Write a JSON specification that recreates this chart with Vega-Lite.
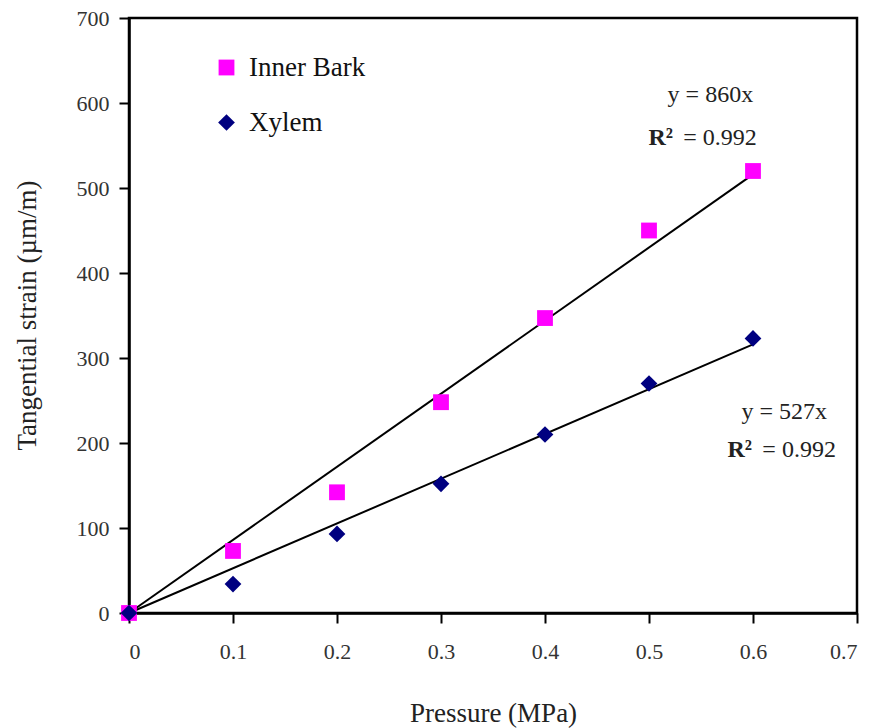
{
  "$schema": "https://vega.github.io/schema/vega-lite/v6.json",
  "autosize": "none",
  "width": 728,
  "height": 595,
  "padding": {"left": 129, "top": 18, "right": 20, "bottom": 115},
  "background": "white",
  "config": {
    "view": {"stroke": "black", "strokeWidth": 2.5},
    "axis": {"grid": false, "domainColor": "black", "tickColor": "black", "domainWidth": 2.5, "tickWidth": 2, "tickSize": 10,
      "labelFontSize": 22, "labelColor": "#333", "titleFont": "Times New Roman", "titleFontSize": 27, "titleFontWeight": "normal", "titleColor": "#222"}
  },
  "datasets": {
    "pts": [
      {"pressure": 0, "strain": 0, "series": "Inner Bark"},
      {"pressure": 0.1, "strain": 73, "series": "Inner Bark"},
      {"pressure": 0.2, "strain": 142, "series": "Inner Bark"},
      {"pressure": 0.3, "strain": 248, "series": "Inner Bark"},
      {"pressure": 0.4, "strain": 347, "series": "Inner Bark"},
      {"pressure": 0.5, "strain": 450, "series": "Inner Bark"},
      {"pressure": 0.6, "strain": 520, "series": "Inner Bark"},
      {"pressure": 0, "strain": 0, "series": "Xylem"},
      {"pressure": 0.1, "strain": 34, "series": "Xylem"},
      {"pressure": 0.2, "strain": 93, "series": "Xylem"},
      {"pressure": 0.3, "strain": 152, "series": "Xylem"},
      {"pressure": 0.4, "strain": 210, "series": "Xylem"},
      {"pressure": 0.5, "strain": 270, "series": "Xylem"},
      {"pressure": 0.6, "strain": 323, "series": "Xylem"}
    ],
    "fits": [
      {"pressure": 0, "strain": 0, "fit": "Inner Bark"},
      {"pressure": 0.6, "strain": 516, "fit": "Inner Bark"},
      {"pressure": 0, "strain": 0, "fit": "Xylem"},
      {"pressure": 0.6, "strain": 316, "fit": "Xylem"}
    ],
    "notes": [
      {"pressure": 0.559, "strain": 609, "label": "y = 860x"},
      {"pressure": 0.630, "strain": 236, "label": "y = 527x"}
    ],
    "r2bold": [
      {"pressure": 0.523, "strain": 559, "label": "R²"},
      {"pressure": 0.599, "strain": 192, "label": "R²"}
    ],
    "r2val": [
      {"pressure": 0.533, "strain": 559, "label": "= 0.992"},
      {"pressure": 0.609, "strain": 192, "label": "= 0.992"}
    ]
  },
  "layer": [
    {
      "data": {"name": "fits"},
      "mark": {"type": "line", "color": "black", "strokeWidth": 2},
      "encoding": {
        "x": {"field": "pressure", "type": "quantitative", "scale": {"domain": [0, 0.7], "nice": false},
          "axis": {"values": [0, 0.1, 0.2, 0.3, 0.4, 0.5, 0.6, 0.7], "format": "~g", "labelPadding": 18, "labelFont": "Times New Roman", "title": "Pressure (MPa)", "titleY": 100, "titleBaseline": "middle"}},
        "y": {"field": "strain", "type": "quantitative", "scale": {"domain": [0, 700], "nice": false},
          "axis": {"values": [0, 100, 200, 300, 400, 500, 600, 700], "format": "d", "labelPadding": 10, "labelFont": "Times New Roman", "title": "Tangential strain (µm/m)", "titleX": -102, "titleY": 297, "titleBaseline": "middle"}},
        "detail": {"field": "fit"}
      }
    },
    {
      "data": {"name": "pts"},
      "mark": {"type": "point", "filled": true, "opacity": 1},
      "encoding": {
        "x": {"field": "pressure", "type": "quantitative"},
        "y": {"field": "strain", "type": "quantitative"},
        "color": {"field": "series", "type": "nominal", "scale": {"domain": ["Inner Bark", "Xylem"], "range": ["#FF00FF", "#000080"]},
          "legend": {"title": null, "orient": "none", "legendX": 84, "legendY": 36, "labelFont": "Times New Roman", "labelFontSize": 27, "labelColor": "#111", "rowPadding": 27, "labelOffset": 9, "symbolSize": 200}},
        "shape": {"field": "series", "type": "nominal", "scale": {"domain": ["Inner Bark", "Xylem"], "range": ["square", "diamond"]}, "legend": null},
        "size": {"field": "series", "type": "nominal", "scale": {"domain": ["Inner Bark", "Xylem"], "range": [250, 280]}, "legend": null}
      }
    },
    {
      "data": {"name": "notes"},
      "mark": {"type": "text", "fontSize": 24, "color": "#222", "align": "center", "baseline": "middle", "font": "Times New Roman"},
      "encoding": {
        "x": {"field": "pressure", "type": "quantitative"},
        "y": {"field": "strain", "type": "quantitative"},
        "text": {"field": "label"}
      }
    },
    {
      "data": {"name": "r2bold"},
      "mark": {"type": "text", "fontSize": 24, "fontWeight": "bold", "color": "#222", "align": "right", "baseline": "middle", "font": "Times New Roman"},
      "encoding": {
        "x": {"field": "pressure", "type": "quantitative"},
        "y": {"field": "strain", "type": "quantitative"},
        "text": {"field": "label"}
      }
    },
    {
      "data": {"name": "r2val"},
      "mark": {"type": "text", "fontSize": 24, "color": "#222", "align": "left", "baseline": "middle", "font": "Times New Roman"},
      "encoding": {
        "x": {"field": "pressure", "type": "quantitative"},
        "y": {"field": "strain", "type": "quantitative"},
        "text": {"field": "label"}
      }
    }
  ]
}
